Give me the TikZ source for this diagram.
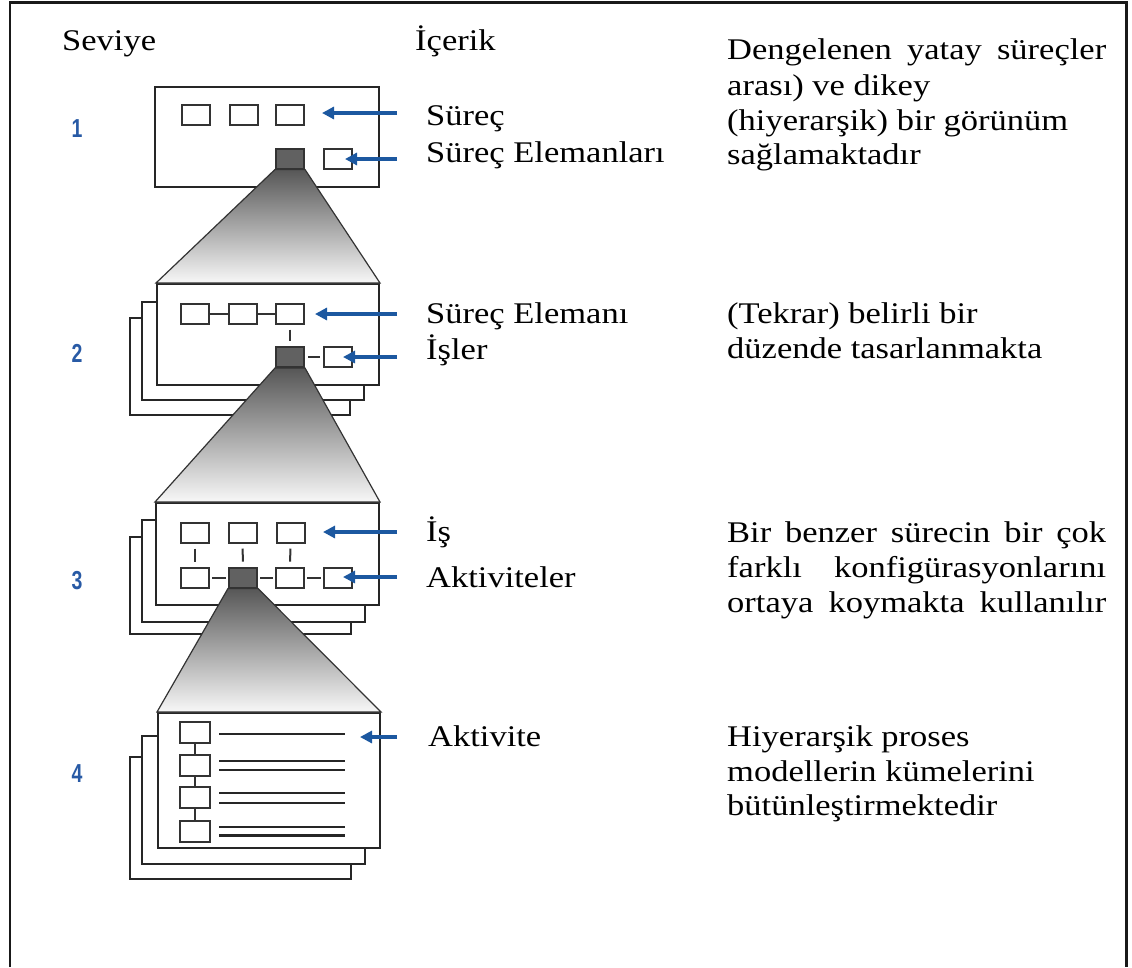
\documentclass[tikz,border=0pt]{standalone}
\usepackage{fontspec}
\setmainfont{Liberation Serif}[FakeStretch=1.15]
\newfontfamily\numfont{Liberation Sans}[FakeStretch=0.75]
\usetikzlibrary{arrows.meta}
\definecolor{arrowblue}{RGB}{28,88,160}
\definecolor{numblue}{RGB}{40,90,165}
\begin{document}
\begin{tikzpicture}[x=1pt,y=-1pt,
 page/.style={draw=black!85,line width=2pt,fill=white,inner sep=0pt},
 sbox/.style={draw=black!80,line width=2pt,fill=white,minimum width=28pt,minimum height=20pt,inner sep=0pt},
 dbox/.style={sbox,fill=black!62},
 lbox/.style={sbox,minimum width=30pt,minimum height=21pt},
 conn/.style={draw=black!80,line width=2pt},
 barrow/.style={draw=arrowblue,line width=4pt,-{Triangle[length=12pt,width=12pt]}},
 txt/.style={anchor=base west,inner sep=0pt,font=\fontsize{30}{35}\selectfont},
 num/.style={anchor=center,inner sep=0pt,text=numblue,font=\numfont\bfseries\fontsize{26}{26}\selectfont},
 funnel/.style={draw=black!80,line width=1.2pt,top color=black!66,bottom color=black!3},
 rulel/.style={draw=black!85,line width=2pt}
]
\useasboundingbox (0,0) rectangle (1132,967);
\draw[line width=2.4pt,black!90] (10,967) -- (10,2.5) -- (1126.5,2.5) -- (1126.5,967);

% headings
\node[txt] (hs) at (62,50) {Seviye};
\node[txt] (hc) at (415,50) {İçerik};

% level numbers
\node[num] (n1) at (77,129) {1};
\node[num] (n2) at (77,353) {2};
\node[num] (n3) at (77,581) {3};
\node[num] (n4) at (77,774) {4};

% ---------- level 1
\node[page,minimum width=224pt,minimum height=100pt] (p1) at (267,137) {};
\node[sbox] (b11) at (195.5,115) {};
\node[sbox] (b12) at (243.5,115) {};
\node[sbox] (b13) at (290,115) {};
\node[dbox] (d1) at (290,158.5) {};
\node[sbox] (r1) at (337.5,158.5) {};

% ---------- level 2
\node[page,minimum width=220pt,minimum height=97pt] (p2c) at (240,366.5) {};
\node[page,minimum width=222pt,minimum height=98pt] (p2b) at (253,351) {};
\node[page,minimum width=222pt,minimum height=101pt] (p2) at (268,334.5) {};
\node[sbox] (b21) at (195,313.5) {};
\node[sbox] (b22) at (242.5,313.5) {};
\node[sbox] (b23) at (290,313.5) {};
\node[dbox] (d2) at (290,357) {};
\node[sbox] (r2) at (337.5,357) {};
\draw[conn] (b21) -- (b22);
\draw[conn] (b22) -- (b23);
\draw[conn,shorten <=5pt,shorten >=5pt] (b23) -- (d2);
\draw[conn,shorten <=3pt,shorten >=3pt] (d2) -- (r2);

% ---------- level 3
\node[page,minimum width=221pt,minimum height=97pt] (p3c) at (240.5,585.5) {};
\node[page,minimum width=223pt,minimum height=102pt] (p3b) at (253.5,571) {};
\node[page,minimum width=223pt,minimum height=102pt] (p3) at (267.5,554) {};
\node[sbox] (u31) at (195,532.5) {};
\node[sbox] (u32) at (242.5,532.5) {};
\node[sbox] (u33) at (290.5,532.5) {};
\node[sbox] (l31) at (195,577.5) {};
\node[dbox] (d3) at (243,577.5) {};
\node[sbox] (l33) at (290,577.5) {};
\node[sbox] (l34) at (337.5,577.5) {};
\draw[conn,shorten <=5pt,shorten >=5pt] (u31) -- (l31);
\draw[conn,shorten <=5pt,shorten >=5pt] (u32) -- (d3);
\draw[conn,shorten <=5pt,shorten >=5pt] (u33) -- (l33);
\draw[conn,shorten <=2pt,shorten >=2pt] (l31) -- (d3);
\draw[conn,shorten <=2pt,shorten >=2pt] (d3) -- (l33);
\draw[conn,shorten <=2pt,shorten >=2pt] (l33) -- (l34);

% ---------- level 4
\node[page,minimum width=221pt,minimum height=122pt] (p4c) at (240.5,818) {};
\node[page,minimum width=223pt,minimum height=128pt] (p4b) at (253.5,800) {};
\node[page,minimum width=222pt,minimum height=135pt] (p4) at (269,780.5) {};
\node[lbox] (b41) at (195,732.5) {};
\node[lbox] (b42) at (195,765) {};
\node[lbox] (b43) at (195,797.5) {};
\node[lbox] (b44) at (195,831) {};
\draw[conn] (b41) -- (b42);
\draw[conn] (b42) -- (b43);
\draw[conn] (b43) -- (b44);
\draw[rulel] (219,734) -- (345,734);
\draw[rulel] (219,761) -- (345,761);
\draw[rulel] (219,770) -- (345,770);
\draw[rulel] (219,793) -- (345,793);
\draw[rulel] (219,803) -- (345,803);
\draw[rulel] (219,827) -- (345,827);
\draw[rulel,line width=3pt] (219,835) -- (345,835);

% ---------- funnels
\path[funnel] (d1.south west) -- (d1.south east) -- (p2.north east) -- (p2.north west) -- cycle;
\path[funnel] (d2.south west) -- (d2.south east) -- (p3.north east) -- (p3.north west) -- cycle;
\path[funnel] (d3.south west) -- (d3.south east) -- (p4.north east) -- (p4.north west) -- cycle;

% ---------- arrows
\coordinate (a1s) at (397,113); \coordinate (a1e) at (322,113);
\coordinate (a2s) at (397,159); \coordinate (a2e) at (345,159);
\coordinate (a3s) at (397,314); \coordinate (a3e) at (315,314);
\coordinate (a4s) at (397,357); \coordinate (a4e) at (343,357);
\coordinate (a5s) at (397,532); \coordinate (a5e) at (323,532);
\coordinate (a6s) at (397,577); \coordinate (a6e) at (343,577);
\coordinate (a7s) at (397,737); \coordinate (a7e) at (360,737);
\draw[barrow] (a1s) -- (a1e);
\draw[barrow] (a2s) -- (a2e);
\draw[barrow] (a3s) -- (a3e);
\draw[barrow] (a4s) -- (a4e);
\draw[barrow] (a5s) -- (a5e);
\draw[barrow] (a6s) -- (a6e);
\draw[barrow] (a7s) -- (a7e);

% ---------- content labels
\node[txt] (t11) at (426,125) {Süreç};
\node[txt] (t12) at (426,162) {Süreç Elemanları};
\node[txt] (t21) at (426,323) {Süreç Elemanı};
\node[txt] (t22) at (426,359) {İşler};
\node[txt] (t31) at (426,541) {İş};
\node[txt] (t32) at (426,587) {Aktiviteler};
\node[txt] (t41) at (428,746) {Aktivite};

% ---------- descriptions
\node[txt] (r11) at (727,59) {\makebox[379pt][s]{Dengelenen yatay süreçler}};
\node[txt] (r12) at (727,95) {arası) ve dikey};
\node[txt] (r13) at (727,130) {(hiyerarşik) bir görünüm};
\node[txt] (r14) at (727,164) {sağlamaktadır};
\node[txt] (r21) at (727,323) {(Tekrar) belirli bir};
\node[txt] (r22) at (727,358) {düzende tasarlanmakta};
\node[txt] (r31) at (727,542) {\makebox[379pt][s]{Bir benzer sürecin bir çok}};
\node[txt] (r32) at (727,577) {\makebox[379pt][s]{farklı konfigürasyonlarını}};
\node[txt] (r33) at (727,612) {\makebox[379pt][s]{ortaya koymakta kullanılır}};
\node[txt] (r41) at (727,746) {Hiyerarşik proses};
\node[txt] (r42) at (727,781) {modellerin kümelerini};
\node[txt] (r43) at (727,815) {bütünleştirmektedir};
\end{tikzpicture}
\end{document}
